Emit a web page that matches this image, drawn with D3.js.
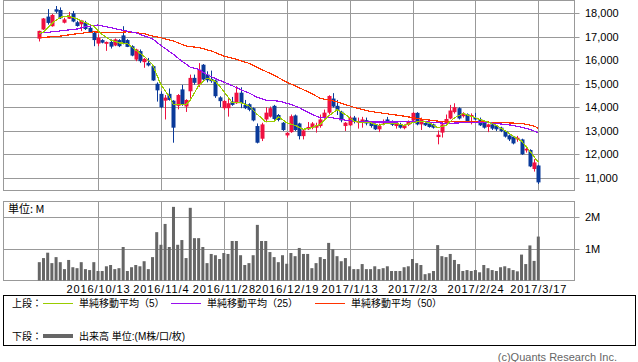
<!DOCTYPE html>
<html>
<head>
<meta charset="utf-8">
<script src="https://cdn.jsdelivr.net/npm/d3@7"></script>
<style>
body { margin: 0; background: #fff; }
svg text { font-family: "Liberation Sans", "Noto Sans CJK JP", sans-serif; }
.jp { font-family: "Noto Sans CJK JP", sans-serif; }
</style>
</head>
<body>
<svg id="chart" width="638" height="362"></svg>
<script>
// candle data (index 0 .. 119, last = 2017/3/17)
var opens = [16920,17310,17860,17450,18170,18140,17600,17770,18000,17620,
    17530,17600,17380,17170,16710,16860,16700,16780,16630,16860,
    17060,16860,16600,16030,16390,15920,15890,15750,15000,14570,
    14280,14570,14280,14060,14760,14030,14680,15250,14960,15810,
    15390,15210,15140,14420,13960,13960,14240,14170,14620,14100,
    14130,13960,13200,12660,13480,13600,14060,13670,13340,12800,
    12940,13650,13310,12770,13060,13130,13130,13200,13560,13770,
    14370,14060,13810,13200,13230,13560,13340,13370,13450,13340,
    13270,13060,13310,13480,13390,13200,13270,13110,13250,13440,
    13760,13270,13330,13310,13270,12730,12920,13310,13520,13790,
    13960,13620,13700,13620,13550,13480,13410,13160,13270,13200,
    13130,12990,12800,12750,12630,12630,12160,12180,11370,11520];
var highs = [17260,17800,18180,17970,18310,18250,17810,18060,18100,17680,
    17720,17680,17420,17200,17100,16900,16800,16890,16930,16900,
    17450,16900,16640,16490,16460,16100,16100,15780,15060,14680,
    14520,14800,14300,14560,14950,14340,15390,15390,15880,15840,
    15530,15560,15180,14470,14300,14380,14440,14900,14850,14310,
    14170,13990,13310,13340,14000,14030,14100,13710,13370,12940,
    13690,13690,13340,13060,13370,13370,13340,13690,13900,14510,
    14600,14310,13850,13370,13630,13630,13560,13590,13560,13410,
    13310,13300,13480,13590,13440,13410,13340,13270,13440,13790,
    13790,13560,13410,13340,13300,13010,13410,13690,14100,14170,
    14000,13790,13740,13740,13760,13560,13450,13300,13340,13230,
    13170,13010,12840,12780,12780,12660,12360,12210,11790,11550];
var lows = [16800,17290,17520,17430,18000,17760,17570,17760,17620,17430,
    17240,17290,17170,16600,16600,16720,16400,16500,16600,16560,
    16680,16560,16170,15960,15890,15680,15740,15120,14240,13960,
    13480,14280,12490,13910,14060,13800,14340,14960,14860,15110,
    15060,15040,14400,14000,13880,13600,14060,14140,13960,13920,
    13830,13400,12460,12560,13360,13560,13460,13400,12990,12710,
    12910,12990,12630,12630,13030,13060,12920,13130,13510,13690,
    13990,13670,13360,12990,13200,13310,13090,13130,13230,13130,
    13030,12940,13230,13320,13200,13090,13090,13060,13200,13360,
    13230,13030,13200,13130,13090,12420,12710,13230,13490,13730,
    13480,13560,13370,13270,13450,13200,13090,12940,13030,12990,
    12940,12710,12560,12420,12530,11970,12070,11450,11260,10730];
var closes = [17250,17780,17590,17930,18070,17790,17740,17870,17650,17460,
    17700,17330,17200,16860,16960,16750,16780,16580,16890,16600,
    16720,16570,16200,16460,15960,16060,15780,15140,14720,14000,
    14410,14310,13130,14520,14100,14310,15250,15040,15600,15180,
    15150,15110,14470,14260,14270,14170,14100,14620,14170,13960,
    13890,13440,12490,13270,13770,13960,13500,13460,13030,12910,
    13620,13030,12770,13010,13160,13310,13200,13480,13770,14480,
    14030,13890,13440,13340,13560,13410,13410,13480,13310,13200,
    13060,13200,13410,13370,13250,13340,13130,13230,13390,13760,
    13270,13480,13230,13160,13130,12830,13270,13500,13860,14000,
    13520,13740,13410,13670,13480,13230,13130,13270,13090,13060,
    12990,12750,12630,12460,12700,12000,12230,11480,11650,10800];
// volume, million shares
var volumes = [0.58,0.71,0.88,0.55,0.74,0.58,0.36,0.65,0.42,0.39,
    0.58,0.36,0.33,0.58,0.30,0.30,0.45,0.49,0.36,0.39,
    1.06,0.30,0.42,0.49,0.45,0.61,0.36,0.74,1.53,1.13,
    1.79,1.06,2.33,1.13,1.28,0.71,2.30,1.34,1.34,1.06,
    0.55,0.84,0.80,0.68,0.87,0.84,1.25,1.25,0.80,0.49,
    0.55,0.80,1.76,1.25,1.25,0.90,0.74,0.58,0.80,0.53,
    0.87,0.77,1.03,0.84,0.84,0.39,0.55,0.74,0.68,1.19,
    0.99,0.77,0.61,0.71,0.45,0.36,0.36,0.52,0.36,0.36,
    0.45,0.36,0.39,0.45,0.30,0.30,0.30,0.42,0.45,0.68,
    0.55,0.49,0.20,0.23,0.30,1.12,0.77,0.74,0.84,0.65,
    0.52,0.30,0.33,0.30,0.33,0.26,0.49,0.39,0.33,0.30,
    0.42,0.45,0.39,0.33,0.29,0.82,0.52,1.11,0.62,1.39];
// moving averages (candle index, value)
var ma5Idx = [0,1,3,5,7,9,11,13,15,17,19,21,23,25,27,29,31,32,34,35,36,38,40,42,44,46,48,50,52,54,
    56,57,59,61,63,65,67,69,71,73,75,77,79,81,83,85,87,89,91,93,95,97,99,101,103,105,107,109,111,113,115,117,119];
var ma5 = [17150,17190,17570,17830,17890,17760,17600,17450,17100,16860,16740,16720,16430,16170,15820,
    14960,14460,14100,14100,14100,14310,14920,15240,15100,14680,14200,14200,14060,13690,13380,
    13380,13600,13340,13230,13060,13130,13280,13620,13900,13690,13410,13340,13340,13230,13310,
    13310,13230,13340,13410,13340,13130,13230,13550,13730,13620,13480,13370,13230,13010,12770,
    12560,12130,11660];
var ma25Idx = [0,5,9,11,14,16,19,23,27,29,32,34,36,38,40,42,44,46,48,50,52,54,56,58,60,62,65,67,70,73,
    77,81,85,89,93,97,101,105,109,113,117,119];
var ma25 = [17150,17250,17330,17430,17500,17430,17310,17170,16910,16630,16250,15960,15710,15610,15390,
    15220,15070,14920,14750,14610,14420,14300,14290,14220,14120,13980,13700,13550,13550,13450,
    13370,13370,13370,13410,13370,13310,13340,13370,13310,13230,13060,12910];
var ma50Idx = [0,5,9,13,17,21,25,27,29,32,35,38,41,44,47,50,53,56,59,62,65,67,71,75,79,83,87,91,95,99,
    103,107,111,115,118,119];
var ma50 = [16960,17030,17130,17210,17170,17210,17130,17030,16960,16820,16610,16540,16400,16180,16040,
    15870,15610,15360,15070,14830,14580,14380,14230,14000,13820,13720,13620,13500,13410,13380,
    13370,13370,13340,13310,13200,13100];

var tickIdx = [14, 29, 44, 59, 74, 89, 104, 119];
var tickLabels = ["2016/10/13", "2016/11/4", "2016/11/28", "2016/12/19",
    "2017/1/13", "2017/2/3", "2017/2/24", "2017/3/17"];
var priceTicks = [11000, 12000, 13000, 14000, 15000, 16000, 17000, 18000];
var volTicks = [1, 2];

var plotL = 3.5, plotR = 574.5;
var colUp = "#f01040", colDown = "#0a3a9a", colGrid = "#999999";

var svg = d3.select("#chart");

var x = d3.scaleLinear()
    .domain([0, 119])
    .range([39.3, 538.3]);
var y = d3.scaleLinear()
    .domain([11000, 18000])
    .range([177.7, 13.3]);
var yv = d3.scaleLinear()
    .domain([0, 2])
    .range([280.5, 217.3]);

function px(v) { return Math.round(v) + 0.5; }

// ---- price panel frame and grid
var priceG = svg.append("g");
priceG.selectAll("line.h")
    .data(priceTicks)
    .enter().append("line")
    .attr("x1", plotL).attr("x2", plotR + 5)
    .attr("y1", function (d) { return px(y(d)); })
    .attr("y2", function (d) { return px(y(d)); })
    .attr("stroke", colGrid);
priceG.selectAll("line.v")
    .data(tickIdx)
    .enter().append("line")
    .attr("x1", function (d) { return px(x(d)); })
    .attr("x2", function (d) { return px(x(d)); })
    .attr("y1", 0.5).attr("y2", 190.5)
    .attr("stroke", colGrid);
priceG.append("rect")
    .attr("x", plotL).attr("y", 0.5)
    .attr("width", plotR - plotL).attr("height", 190)
    .attr("fill", "none").attr("stroke", colGrid);
priceG.selectAll("text")
    .data(priceTicks)
    .enter().append("text")
    .attr("x", 585)
    .attr("y", function (d) { return y(d) + 4; })
    .attr("font-size", 11)
    .text(function (d) { return d3.format(",")(d); });

// ---- volume panel frame and grid
var volG = svg.append("g");
volG.selectAll("line.h")
    .data(volTicks)
    .enter().append("line")
    .attr("x1", plotL).attr("x2", plotR + 5)
    .attr("y1", function (d) { return px(yv(d)); })
    .attr("y2", function (d) { return px(yv(d)); })
    .attr("stroke", colGrid);
volG.selectAll("line.v")
    .data(tickIdx)
    .enter().append("line")
    .attr("x1", function (d) { return px(x(d)); })
    .attr("x2", function (d) { return px(x(d)); })
    .attr("y1", 201.5).attr("y2", 280.5)
    .attr("stroke", colGrid);
volG.append("rect")
    .attr("x", plotL).attr("y", 201.5)
    .attr("width", plotR - plotL).attr("height", 79)
    .attr("fill", "none").attr("stroke", colGrid);
volG.selectAll("text.tick")
    .data(volTicks)
    .enter().append("text")
    .attr("x", 585)
    .attr("y", function (d) { return yv(d) + 4; })
    .attr("font-size", 11)
    .text(function (d) { return d + "M"; });
volG.append("text")
    .attr("class", "jp")
    .attr("x", 8).attr("y", 213)
    .attr("font-size", 11)
    .text("単位: M");

// ---- volume bars
volG.selectAll("rect.vol")
    .data(volumes)
    .enter().append("rect")
    .attr("x", function (d, i) { return x(i) - 1.5; })
    .attr("width", 3)
    .attr("y", function (d) { return yv(d); })
    .attr("height", function (d) { return yv(0) - yv(d); })
    .attr("fill", "#666666");

// ---- date labels
svg.selectAll("text.date")
    .data(tickIdx)
    .enter().append("text")
    .attr("x", function (d) { return x(d) + 0.5; })
    .attr("y", 293)
    .attr("text-anchor", "middle")
    .attr("font-size", 11)
    .attr("letter-spacing", 0.9)
    .text(function (d, i) { return tickLabels[i]; });

// ---- moving averages
function maLine(idx, vals, color) {
    var line = d3.line()
        .x(function (d) { return x(d); })
        .y(function (d, i) { return y(vals[i]); });
    svg.append("path")
        .datum(idx)
        .attr("d", line)
        .attr("fill", "none")
        .attr("stroke", color)
        .attr("stroke-width", 1.2)
        .attr("shape-rendering", "crispEdges");
}

// ---- candles
var candle = svg.selectAll("g.candle")
    .data(opens)
    .enter().append("g");
candle.append("line")
    .attr("x1", function (d, i) { return px(x(i)); })
    .attr("x2", function (d, i) { return px(x(i)); })
    .attr("y1", function (d, i) { return y(highs[i]); })
    .attr("y2", function (d, i) { return y(lows[i]); })
    .attr("stroke", function (d, i) { return closes[i] >= d ? colUp : colDown; });
candle.append("rect")
    .attr("x", function (d, i) { return Math.round(x(i)) - 1.5; })
    .attr("width", 4)
    .attr("y", function (d, i) { return y(Math.max(d, closes[i])); })
    .attr("height", function (d, i) { return Math.max(1, Math.abs(y(d) - y(closes[i]))); })
    .attr("fill", function (d, i) { return closes[i] >= d ? colUp : colDown; });

maLine(ma50Idx, ma50, "#ff3300");
maLine(ma25Idx, ma25, "#9a10ee");
maLine(ma5Idx, ma5, "#99cc00");

// ---- legend
var leg = svg.append("g").attr("class", "jp").attr("font-size", 10);
leg.append("rect")
    .attr("x", 3.5).attr("y", 295.5)
    .attr("width", 632).attr("height", 50)
    .attr("fill", "none").attr("stroke", "#000");
var legItems = [
    {x: 43, label: "単純移動平均（5）", color: "#99cc00"},
    {x: 171, label: "単純移動平均（25）", color: "#9a10ee"},
    {x: 315, label: "単純移動平均（50）", color: "#ff3300"}
];
leg.append("text").attr("x", 12).attr("y", 307).text("上段：");
leg.selectAll("line.ma")
    .data(legItems)
    .enter().append("line")
    .attr("x1", function (d) { return d.x; })
    .attr("x2", function (d) { return d.x + 30; })
    .attr("y1", 303.5).attr("y2", 303.5)
    .attr("stroke", function (d) { return d.color; });
leg.selectAll("text.ma")
    .data(legItems)
    .enter().append("text")
    .attr("x", function (d) { return d.x + 36; })
    .attr("y", 307)
    .text(function (d) { return d.label; });
leg.append("text").attr("x", 12).attr("y", 340).text("下段：");
leg.append("line")
    .attr("x1", 43).attr("x2", 73)
    .attr("y1", 336).attr("y2", 336)
    .attr("stroke", "#666666").attr("stroke-width", 4);
leg.append("text").attr("x", 79).attr("y", 340).text("出来高 単位:(M株/口/枚)");

svg.append("text")
    .attr("x", 617).attr("y", 361)
    .attr("text-anchor", "end")
    .attr("font-size", 11)
    .attr("fill", "#666")
    .text("(c)Quants Research Inc.");
</script>
</body>
</html>
